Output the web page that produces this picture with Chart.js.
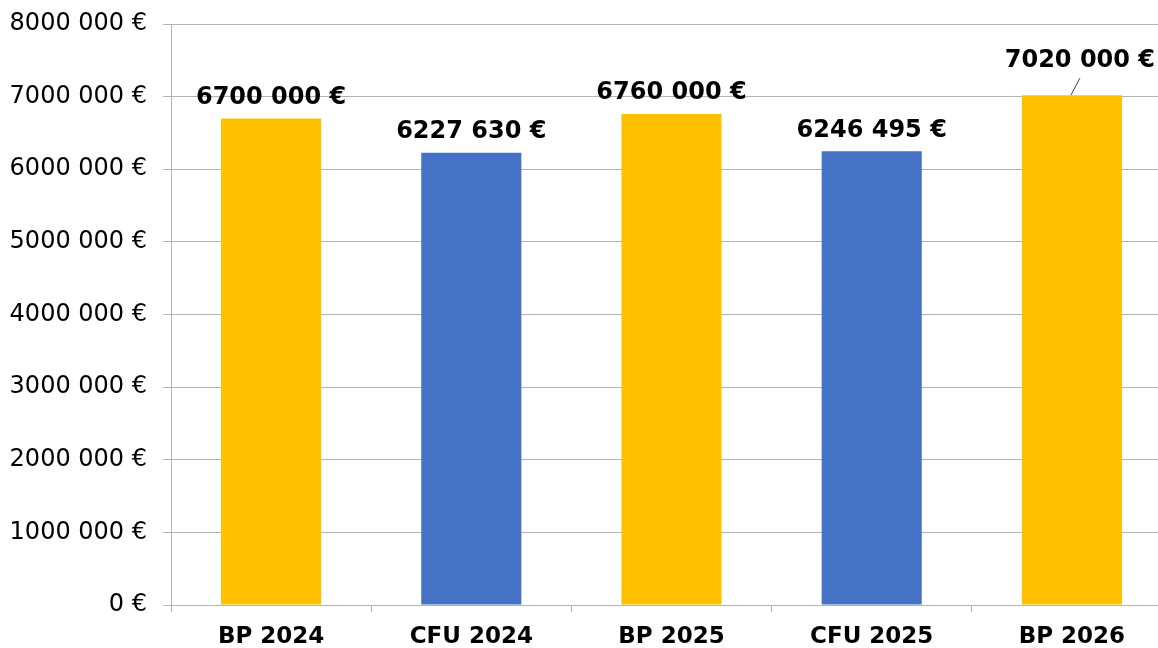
<!DOCTYPE html>
<html>
<head>
<meta charset="utf-8">
<script src="https://cdn.jsdelivr.net/npm/chart.js@4"></script>
<style>
  body { margin: 0; overflow: hidden; background: #fff; }
  #chart { display: block; margin-top: -4px; }
</style>
</head>
<body>
<canvas id="chart" width="1172" height="652"></canvas>
<script>
const categories = ["BP 2024", "CFU 2024", "BP 2025", "CFU 2025", "BP 2026"];
const amounts = [6700000, 6227630, 6760000, 6246495, 7020000];
const barColors = ["#FFC000", "#4472C4", "#FFC000", "#4472C4", "#FFC000"];

const FONT = "'DejaVu Sans', Verdana, sans-serif";

// "8000 000 €" style : only the last group is separated
function euro(v) {
  if (v < 1000) return v + " €";
  const th = Math.floor(v / 1000);
  const rest = String(v % 1000).padStart(3, "0");
  return th + " " + rest + " €";
}

// value labels above the bars
const valueLabels = {
  id: "valueLabels",
  afterDatasetsDraw(chart) {
    const ctx = chart.ctx;
    const meta = chart.getDatasetMeta(0);
    ctx.save();
    ctx.font = "bold 24px " + FONT;
    ctx.fillStyle = "#000";
    ctx.textAlign = "center";
    ctx.textBaseline = "middle";
    meta.data.forEach((bar, i) => {
      const txt = euro(amounts[i]);
      if (i === meta.data.length - 1) {
        // last label pushed aside, with a leader line
        ctx.strokeStyle = "#404040";
        ctx.lineWidth = 1;
        ctx.beginPath();
        ctx.moveTo(bar.x - 1, bar.y);
        ctx.lineTo(bar.x + 8, bar.y - 17);
        ctx.stroke();
        ctx.fillText(txt, bar.x + 8, bar.y - 34);
      } else {
        ctx.fillText(txt, bar.x, bar.y - 21);
      }
    });
    ctx.restore();
  }
};

new Chart(document.getElementById("chart"), {
  type: "bar",
  data: {
    labels: categories,
    datasets: [
      {
        data: amounts,
        backgroundColor: barColors,
        borderWidth: 0,
        categoryPercentage: 1,
        barPercentage: 0.5,
      },
    ],
  },
  options: {
    responsive: false,
    animation: false,
    layout: { padding: { top: 0, right: 0, left: 0, bottom: 0 } },
    plugins: {
      legend: { display: false },
      tooltip: { enabled: false },
    },
    scales: {
      x: {
        grid: {
          offset: true,
          drawOnChartArea: false,
          tickLength: 7,
          color: "#b3b3b3",
        },
        border: { color: "#b3b3b3" },
        ticks: {
          color: "#000",
          font: { family: FONT, size: 23, weight: "bold" },
          padding: 11,
          maxRotation: 0,
        },
        afterFit(scale) { scale.height = 43; },
      },
      y: {
        min: 0,
        max: 8000000,
        grid: { color: "#b3b3b3", tickLength: 8 },
        border: { color: "#b3b3b3" },
        ticks: {
          stepSize: 1000000,
          color: "#000",
          font: { family: FONT, size: 24, lineHeight: 1 },
          padding: 16,
          callback: (v) => euro(v),
        },
        afterFit(scale) { scale.width = 171; },
      },
    },
  },
  plugins: [valueLabels],
});
</script>
</body>
</html>
